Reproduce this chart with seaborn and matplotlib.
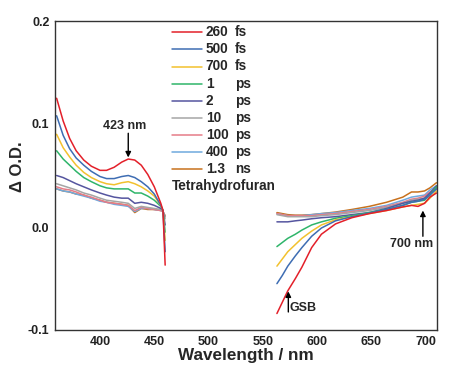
import matplotlib
matplotlib.use("Agg")
import matplotlib.pyplot as plt
import seaborn as sns
import numpy as np
import pandas as pd
from matplotlib.ticker import MultipleLocator, FuncFormatter
from matplotlib.lines import Line2D

# ---------------- data ----------------
labels_num = ["260", "500", "700", "1", "2", "10", "100", "400", "1.3"]
labels_unit = ["fs", "fs", "fs", "ps", "ps", "ps", "ps", "ps", "ns"]
colors = ["#e3202a", "#3e6db3", "#f2c12e", "#2fb56a", "#55559f",
          "#a5a5a5", "#e67c88", "#6fa9de", "#c8711d"]

wl_left = [360, 366, 372, 378, 385, 392, 400, 406, 413, 420, 426, 432, 438, 444, 450, 456, 458, 460]
wl_right = [563, 568, 573, 580, 586, 595, 604, 617, 632, 648, 664, 679, 687, 693, 699, 704, 710]

left_260fs = [0.125, 0.103, 0.086, 0.074, 0.065, 0.059, 0.055, 0.055, 0.058, 0.063, 0.066, 0.065, 0.060, 0.051, 0.039, 0.023, 0.016, -0.037]
left_500fs = [0.108, 0.089, 0.076, 0.067, 0.060, 0.054, 0.049, 0.047, 0.047, 0.049, 0.050, 0.048, 0.044, 0.039, 0.032, 0.021, 0.016, -0.024]
left_700fs = [0.090, 0.077, 0.068, 0.060, 0.053, 0.048, 0.044, 0.042, 0.041, 0.043, 0.044, 0.042, 0.039, 0.035, 0.030, 0.021, 0.016, -0.013]
left_1ps = [0.074, 0.066, 0.060, 0.054, 0.048, 0.044, 0.040, 0.038, 0.037, 0.037, 0.037, 0.033, 0.033, 0.030, 0.026, 0.020, 0.016, -0.005]
left_2ps = [0.050, 0.048, 0.045, 0.042, 0.039, 0.036, 0.033, 0.031, 0.029, 0.028, 0.028, 0.023, 0.024, 0.023, 0.021, 0.018, 0.016, 0.002]
left_10ps = [0.042, 0.040, 0.038, 0.036, 0.033, 0.031, 0.028, 0.026, 0.025, 0.024, 0.023, 0.018, 0.020, 0.019, 0.018, 0.017, 0.015, 0.008]
left_100ps = [0.039, 0.037, 0.036, 0.034, 0.031, 0.029, 0.026, 0.024, 0.023, 0.022, 0.021, 0.016, 0.019, 0.018, 0.017, 0.016, 0.015, 0.010]
left_400ps = [0.037, 0.035, 0.034, 0.032, 0.030, 0.028, 0.025, 0.024, 0.022, 0.021, 0.020, 0.015, 0.018, 0.018, 0.017, 0.016, 0.015, 0.010]
left_1_3ns = [0.037, 0.035, 0.034, 0.032, 0.031, 0.028, 0.026, 0.024, 0.023, 0.022, 0.021, 0.014, 0.018, 0.017, 0.017, 0.016, 0.015, 0.011]

right_260fs = [-0.084, -0.073, -0.062, -0.050, -0.039, -0.020, -0.007, 0.003, 0.009, 0.013, 0.016, 0.0195, 0.021, 0.020, 0.023, 0.029, 0.033]
right_500fs = [-0.055, -0.047, -0.038, -0.028, -0.020, -0.009, -0.001, 0.006, 0.010, 0.0135, 0.017, 0.021, 0.024, 0.025, 0.027, 0.031, 0.037]
right_700fs = [-0.038, -0.031, -0.024, -0.017, -0.011, -0.004, 0.002, 0.007, 0.010, 0.013, 0.016, 0.0195, 0.021, 0.022, 0.023, 0.028, 0.035]
right_1ps = [-0.019, -0.015, -0.011, -0.007, -0.003, 0.002, 0.005, 0.0085, 0.011, 0.014, 0.017, 0.021, 0.024, 0.025, 0.026, 0.031, 0.039]
right_2ps = [0.005, 0.005, 0.005, 0.006, 0.0067, 0.008, 0.009, 0.010, 0.012, 0.014, 0.018, 0.023, 0.025, 0.026, 0.028, 0.033, 0.040]
right_10ps = [0.012, 0.011, 0.010, 0.010, 0.010, 0.010, 0.011, 0.012, 0.014, 0.016, 0.019, 0.023, 0.026, 0.027, 0.028, 0.032, 0.037]
right_100ps = [0.013, 0.012, 0.011, 0.011, 0.011, 0.011, 0.012, 0.013, 0.015, 0.017, 0.020, 0.024, 0.027, 0.028, 0.030, 0.034, 0.038]
right_400ps = [0.013, 0.012, 0.011, 0.011, 0.011, 0.012, 0.013, 0.014, 0.016, 0.018, 0.021, 0.026, 0.029, 0.030, 0.031, 0.036, 0.040]
right_1_3ns = [0.014, 0.013, 0.012, 0.0115, 0.0115, 0.012, 0.013, 0.0145, 0.017, 0.020, 0.024, 0.029, 0.034, 0.034, 0.035, 0.038, 0.043]

left_series = [left_260fs, left_500fs, left_700fs, left_1ps, left_2ps,
               left_10ps, left_100ps, left_400ps, left_1_3ns]
right_series = [right_260fs, right_500fs, right_700fs, right_1ps, right_2ps,
                right_10ps, right_100ps, right_400ps, right_1_3ns]

# ---------------- style ----------------
sns.set_style("white")
plt.rcParams["font.family"] = ["Liberation Sans", "DejaVu Sans"]
plt.rcParams["font.weight"] = "bold"

fig = plt.figure(figsize=(4.71, 3.68), dpi=100)
ax = fig.add_axes([55 / 471, 1 - 330 / 368, 382 / 471, 309 / 368])

# draw in reverse so early times are on top
for i in reversed(range(len(labels_num))):
    for wl, vals in ((wl_left, left_series[i]), (wl_right, right_series[i])):
        df = pd.DataFrame({"wl": wl, "od": vals})
        sns.lineplot(data=df, x="wl", y="od", color=colors[i], lw=1.1,
                     sort=False, estimator=None, ax=ax, legend=False)

ax.set_xlim(358.5, 710.5)
ax.set_ylim(-0.1, 0.2)
ax.xaxis.set_major_locator(MultipleLocator(50))
ax.xaxis.set_minor_locator(MultipleLocator(25))
ax.yaxis.set_major_locator(MultipleLocator(0.1))
ax.yaxis.set_minor_locator(MultipleLocator(0.05))
ax.yaxis.set_major_formatter(FuncFormatter(lambda v, p: f"{v:.1f}".replace("\u2212", "-")))
ax.tick_params(axis="both", which="major", direction="in", length=4, width=1,
               labelsize=9, colors="#222222", pad=4)
ax.tick_params(axis="both", which="minor", direction="in", length=2.5, width=1,
               colors="#222222")
ax.tick_params(top=False, right=False, which="both")
for sp in ax.spines.values():
    sp.set_color("#333333")
    sp.set_linewidth(1.0)

ax.set_xlabel("Wavelength / nm", fontsize=12.3, fontweight="bold", labelpad=0)
ax.set_ylabel("\u0394 O.D.", fontsize=12, fontweight="bold")
ax.yaxis.set_label_coords(-30 / 382, 0.53)

# ---------------- manual legend ----------------
x0, x1 = (171.7 - 55) / 382, (202.3 - 55) / 382
xn, xu = (205.7 - 55) / 382, (235 - 55) / 382
y0 = 1 - (32.3 - 21) / 309
dy = 17.1 / 309
for i in range(len(labels_num)):
    y = y0 - i * dy
    ax.add_line(Line2D([x0, x1], [y, y], transform=ax.transAxes,
                       color=colors[i], lw=1.1))
    ax.text(xn, y, labels_num[i], transform=ax.transAxes, fontsize=9.8,
            fontweight="bold", va="center", ha="left")
    ax.text(xu, y, labels_unit[i], transform=ax.transAxes, fontsize=9.8,
            fontweight="bold", va="center", ha="left")
ax.text((172 - 55) / 382, y0 - 9 * dy, "Tetrahydrofuran", transform=ax.transAxes,
        fontsize=9.8, fontweight="bold", va="center", ha="left")

# ---------------- annotations ----------------
arrow = dict(arrowstyle="-|>", color="black", lw=1.0, mutation_scale=8,
             shrinkA=0, shrinkB=0)
ax.annotate("", xy=(426, 0.0675), xytext=(426, 0.091), arrowprops=arrow)
ax.text(423, 0.0985, "423 nm", ha="center", va="center", fontsize=9, fontweight="bold")

ax.annotate("", xy=(573.5, -0.0625), xytext=(573.5, -0.0825), arrowprops=arrow)
ax.text(575, -0.079, "GSB", ha="left", va="center", fontsize=9, fontweight="bold")

ax.annotate("", xy=(697.5, 0.016), xytext=(697.5, -0.009), arrowprops=arrow)
ax.text(687, -0.0165, "700 nm", ha="center", va="center", fontsize=9, fontweight="bold")

fig.savefig("out.png", dpi=100, facecolor="white")
